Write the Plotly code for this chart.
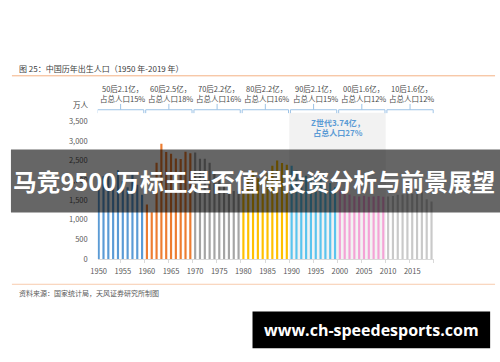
import plotly.graph_objects as go

W, H = 500, 362

years = list(range(1950, 2020))
births = [2023, 2107, 2105, 2151, 2260, 1984, 1825, 2169, 1889, 1635,
          1389, 1188, 2451, 2934, 2721, 2679, 2554, 2543, 2731, 2690,
          2710, 2551, 2550, 2447, 2226, 2102, 1849, 1783, 1733, 1715,
          1776, 2064, 2230, 2052, 2050, 2196, 2374, 2508, 2445, 2396,
          2374, 2250, 2113, 2120, 2098, 2052, 2057, 2028, 1934, 1827,
          1765, 1696, 1641, 1594, 1588, 1612, 1581, 1591, 1604, 1587,
          1588, 1600, 1635, 1640, 1687, 1655, 1786, 1723, 1523, 1465]

decade_starts = [1950, 1960, 1970, 1980, 1990, 2000, 2010]
decade_colors = ["#5B9BD5", "#ED7D31", "#A5A5A5", "#FFC000", "#5BC4EE", "#F4A3D6", "#C9C9C9"]
decade_line1 = ["50后2.1亿，", "60后2.5亿，", "70后2.2亿，", "80后2.2亿，", "90后2.1亿，", "00后1.6亿，", "10后1.6亿，"]
decade_line2 = ["占总人口15%", "占总人口18%", "占总人口16%", "占总人口16%", "占总人口15%", "占总人口12%", "占总人口12%"]

y_ticks = [0, 500, 1000, 1500, 2000, 2500, 3000, 3500]
x_ticks = [1950, 1955, 1960, 1965, 1970, 1975, 1980, 1985, 1990, 1995, 2000, 2005, 2010, 2015]

title_text = "图 25：中国历年出生人口（1950 年-2019 年）"
source_text = "资料来源：国家统计局，天风证券研究所制图"
unit_text = "万人"
z_text = "Z世代3.74亿，<br>占总人口27%"
banner_text = "马竞9500万标王是否值得投资分析与前景展望"
url_text = "www.ch-speedesports.com"

FONT = "Noto Sans CJK SC"

def py(px):
    return (H - px) / H

def pxx(px):
    return px / W

fig = go.Figure()
for i, d in enumerate(decade_starts):
    xs = [y for y in years if d <= y < d + 10]
    vs = [births[years.index(y)] for y in xs]
    fig.add_trace(go.Bar(x=xs, y=vs, marker_color=decade_colors[i], marker_line_width=0,
                         width=0.45, showlegend=False, hoverinfo="x+y"))

shapes = []
annotations = []

# Z generation background
shapes.append(dict(type="rect", xref="x", yref="paper", x0=1989.5, x1=2009.5,
                   y0=py(261), y1=py(110), fillcolor="#F2F2F2", line_width=0, layer="below"))
annotations.append(dict(text="<b>" + z_text + "</b>", xref="x", yref="paper", x=1999.6, y=py(125.5),
                        showarrow=False, font=dict(family=FONT, size=8, color="#5B9BD5"),
                        align="center", yanchor="middle"))

# decade brackets and labels
for i, d in enumerate(decade_starts):
    x0, x1, xc = d - 0.25, d + 9.35, d + 4.55
    shapes.append(dict(type="path", xref="x", yref="paper",
                       path=f"M {x0},{py(110.5)} L {x0},{py(107)} L {x1},{py(107)} L {x1},{py(110.5)}",
                       line=dict(color="#9DC3E6", width=1)))
    shapes.append(dict(type="line", xref="x", yref="paper", x0=xc, x1=xc, y0=py(107), y1=py(101),
                       line=dict(color="#9DC3E6", width=1)))
    annotations.append(dict(text=decade_line1[i] + "<br>" + decade_line2[i], xref="x", yref="paper",
                            x=xc + 0.3, y=py(90.5), showarrow=False, align="center", yanchor="middle",
                            font=dict(family=FONT, size=7.5, color="#4a4a4a")))

# title, lines, source
annotations.append(dict(text=title_text, xref="paper", yref="paper", x=pxx(10), y=py(64),
                        xanchor="left", yanchor="middle", showarrow=False,
                        font=dict(family=FONT, size=8, color="#404040")))
shapes.append(dict(type="line", xref="paper", yref="paper", x0=pxx(5), x1=pxx(495), y0=py(72), y1=py(72),
                   line=dict(color="#F4B183", width=1)))
shapes.append(dict(type="line", xref="paper", yref="paper", x0=pxx(5), x1=pxx(495), y0=py(287), y1=py(287),
                   line=dict(color="#F8CBAD", width=1)))
annotations.append(dict(text=source_text, xref="paper", yref="paper", x=pxx(10), y=py(296),
                        xanchor="left", yanchor="middle", showarrow=False,
                        font=dict(family=FONT, size=7, color="#595959")))
annotations.append(dict(text=unit_text, xref="paper", yref="paper", x=pxx(75), y=py(102),
                        xanchor="center", yanchor="middle", showarrow=False,
                        font=dict(family=FONT, size=7.5, color="#404040")))

# overlay banner
shapes.append(dict(type="rect", xref="paper", yref="paper", x0=pxx(4), x1=1.0, y0=py(213), y1=py(148),
                   fillcolor="rgba(0,0,0,0.6)", line_width=0, layer="above"))
annotations.append(dict(text="<b>" + banner_text + "</b>", xref="paper", yref="paper", x=pxx(251), y=py(180),
                        xanchor="center", yanchor="middle", showarrow=False,
                        font=dict(family=FONT, size=23.7, color="white")))

# url box
shapes.append(dict(type="rect", xref="paper", yref="paper", x0=pxx(249), x1=pxx(490), y0=py(353), y1=py(315),
                   fillcolor="black", line_width=0, layer="above"))
annotations.append(dict(text="<b>" + url_text + "</b>", xref="paper", yref="paper", x=pxx(369.5), y=py(334),
                        xanchor="center", yanchor="middle", showarrow=False,
                        font=dict(family="Open Sans", size=16, color="white")))

fig.update_layout(
    width=W, height=H, margin=dict(l=0, r=0, t=0, b=0),
    paper_bgcolor="white", plot_bgcolor="rgba(0,0,0,0)",
    barmode="overlay", shapes=shapes, annotations=annotations,
    font=dict(family=FONT, color="#595959"),
    xaxis=dict(domain=[pxx(92), pxx(433)], range=[1949.8, 2019.5], tickvals=x_ticks,
               ticktext=[str(t) for t in x_ticks], showgrid=False, zeroline=False,
               showline=True, linecolor="#D9D9D9", linewidth=1, ticks="", ticklabelstandoff=5,
               tickfont=dict(size=7.5, color="#595959"),
               minor=dict(tick0=1949.5, dtick=5, ticks="outside", ticklen=3, tickcolor="#D9D9D9")),
    yaxis=dict(domain=[py(261), py(119)], range=[0, 3500], tickvals=y_ticks,
               ticktext=[f"{v:,}" for v in y_ticks], showgrid=False, zeroline=False,
               showline=False, ticks="", ticklabelstandoff=9,
               tickfont=dict(size=7.5, color="#595959")),
)

fig.write_html("out.html")
